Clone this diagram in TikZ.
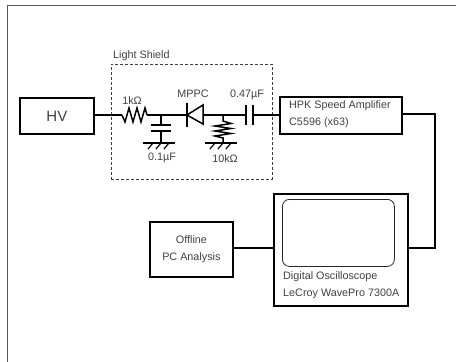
\documentclass[tikz,border=0pt]{standalone}
\usepackage{fontspec}
\setmainfont{Liberation Sans}
\usepackage{tikz}
\usetikzlibrary{
    positioning,
    calc
}

\begin{document}
\begin{tikzpicture}[
    x=1pt, y=-1pt,
    block/.style={
        rectangle,
        draw,
        line width=1.8pt,
        font=\fontsize{10.8}{12}\selectfont,
        text=black!75,
        align=center,
        inner sep=0pt,
        anchor=north west
    },
    wire/.style={line width=1.5pt},
    thinwire/.style={line width=1.2pt},
    label/.style={font=\fontsize{10.8}{12}\selectfont, text=black!75, inner sep=0pt},
    shield/.style={draw=black!75, densely dashed, line width=0.8pt}
]
\useasboundingbox (0,0) rectangle (456,362);

% ============================================================
% MARCO
% ============================================================
\coordinate (fa) at (7,362);
\coordinate (fb) at (7,5);
\coordinate (fc) at (456,5);
\draw[black!65, line width=0.8pt] (fa) -- (fb) -- (fc);

% ============================================================
% BLOQUES
% ============================================================
\node[block, minimum width=74pt, minimum height=36pt, font=\fontsize{15}{17}\selectfont] (hv) at (19,97) {HV};
\node[block, minimum width=122pt, minimum height=37pt] (amp) at (279,96) {};
\node[label, anchor=west] (ampa) at (289,106) {HPK Speed Amplifier};
\node[label, anchor=west] (ampb) at (289,123) {C5596 (x63)};
\node[block, minimum width=134pt, minimum height=112pt] (scope) at (273,193) {};
\node[draw=black!85, line width=0.8pt, rounded corners=7pt, anchor=north west, minimum width=112pt, minimum height=67pt, inner sep=0pt] (screen) at (282,199) {};
\node[label, anchor=west] (scopea) at (283,277) {Digital Oscilloscope};
\node[label, anchor=west] (scopeb) at (283,294) {LeCroy WavePro 7300A};
\node[block, minimum width=83pt, minimum height=55pt, font=\fontsize{10.8}{17}\selectfont] (pc) at (149,221) {Offline\\PC Analysis};

% Blindaje
\node[shield, anchor=north west, minimum width=161pt, minimum height=115pt, inner sep=0pt] (box) at (111,64) {};
\node[label, anchor=west] (shieldtxt) at (113,56) {Light Shield};

% ============================================================
% CIRCUITO
% ============================================================
\coordinate (ra) at (122,115);
\coordinate (rb) at (147,115);
\coordinate (j1) at (161,115);
\coordinate (da) at (187,115);
\coordinate (db) at (203,115);
\coordinate (j2) at (223,115);
\coordinate (ca) at (246,115);
\coordinate (cb) at (253,115);
\coordinate (g1) at (161,143);
\coordinate (g2) at (223,143);

% Linea principal
\draw[wire] (hv.east |- ra) -- (ra);
\draw[wire] (ra) -- ++(3,7) -- ++(4,-14) -- ++(4,14) -- ++(4,-14) -- ++(4,14) -- ++(4,-14) -- (rb);
\draw[wire] (rb) -- (da);
\draw[wire] (db) -- (ca);
\draw[wire] (cb) -- (amp.west |- cb);

% Diodo
\draw[wire] (187,103) -- (187,127);
\draw[wire] (187,115) -- (203,105) -- (203,124) -- cycle;

% Condensador 0.47
\draw[wire] (246,105) -- (246,125);
\draw[wire] (253,105) -- (253,125);

% Condensador 0.1
\draw[wire] (j1) -- (161,125);
\draw[wire] (151,125) -- (171,125);
\draw[wire] (151,131) -- (171,131);
\draw[wire] (161,131) -- (g1);

% Resistencia 10k
\draw[wire] (j2) -- (223,121) -- ++(8,2.5) -- ++(-16,2.5) -- ++(16,2.5) -- ++(-16,2.5) -- ++(16,2.5) -- ++(-16,2.5) -- (223,138) -- (g2);

% Tierras
\foreach \g in {g1,g2} {
    \draw[wire] ($(\g)+(-18,0)$) -- ($(\g)+(14,0)$);
    \foreach \d in {-8,0,8}
        \draw[thinwire] ($(\g)+(\d,0)$) -- ++(-5,6);
}

% Etiquetas de componentes
\node[label] (r1txt) at (132,101) {1kΩ};
\node[label] (mppc) at (193,94) {MPPC};
\node[label] (c1txt) at (247,95) {0.47µF};
\node[label] (c2txt) at (162,158) {0.1µF};
\node[label] (r2txt) at (225,159) {10kΩ};

% ============================================================
% CONEXIONES
% ============================================================
\draw[wire] (amp.east |- 0,114) -| (435,248) -- (scope.east |- 0,248);
\draw[wire] (scope.west |- 0,248) -- (pc.east |- 0,248);

\end{tikzpicture}
\end{document}
